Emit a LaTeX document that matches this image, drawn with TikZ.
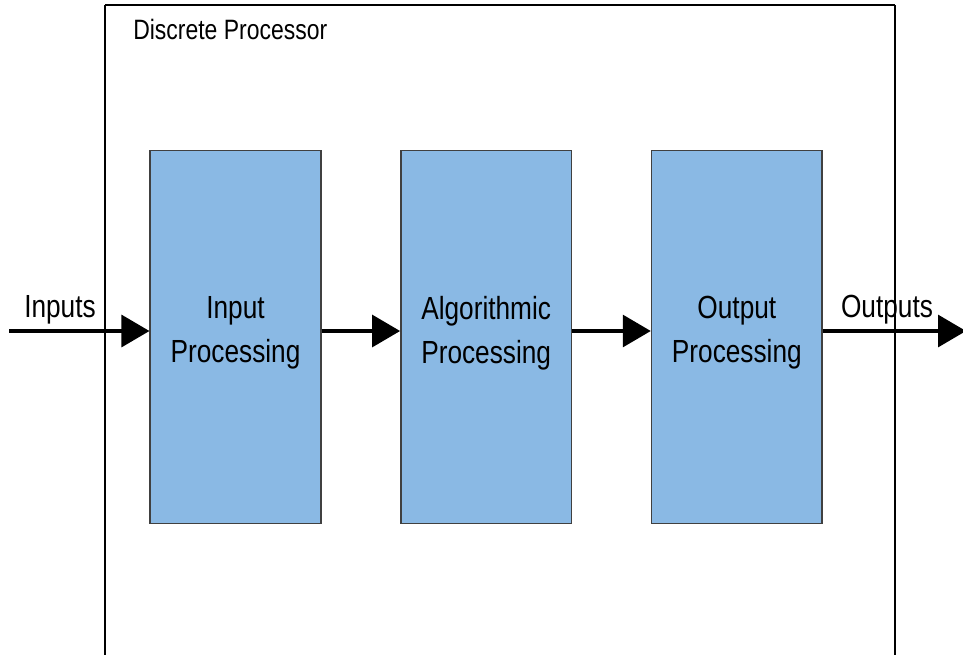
\documentclass[tikz,border=0pt]{standalone}
\usepackage{fontspec}
\setmainfont{Liberation Sans}[FakeStretch=0.82]
\usetikzlibrary{arrows.meta,positioning}
\definecolor{blockblue}{HTML}{8AB9E4}
\tikzset{
  dp/frame/.style={draw=black, line width=1.3pt},
  dp/block/.style={
    draw=black!75,
    line width=1.1pt,
    fill=blockblue,
    minimum width=128pt,
    minimum height=280pt,
    align=center,
    text depth=11pt,
    font=\fontsize{24}{33}\selectfont,
    inner sep=0pt
  },
  dp/label/.style={font=\fontsize{24}{33}\selectfont, inner sep=0pt},
  dp/flow/.style={line width=2.4pt, -{Triangle[length=21pt, width=24pt]}}
}
\begin{document}
\begin{tikzpicture}[x=0.75pt, y=-0.75pt]
\useasboundingbox (0,0) rectangle (963,654);

% --- outer frame
\draw[dp/frame] (105,5) -- (895,5) (105,5) -- (105,680) (895,5) -- (895,680);
\node[anchor=base west, inner sep=0pt, font=\fontsize{21}{25}\selectfont]
  (title) at (133,39) {Discrete Processor};

% --- processing blocks
\node[dp/block] (inproc) at (235.5,337) {Input\\Processing};
\node[dp/block, right=58.9pt of inproc] (algproc) {Algorithmic\\Processing};
\node[dp/block, right=58.9pt of algproc] (outproc) {Output\\Processing};

% --- signal flow
\coordinate (in) at (9,331);
\coordinate (out) at (966,331);
\draw[dp/flow] (in) -- ([yshift=4.5pt]inproc.west);
\draw[dp/flow] ([yshift=4.5pt]inproc.east) -- ([yshift=4.5pt]algproc.west);
\draw[dp/flow] ([yshift=4.5pt]algproc.east) -- ([yshift=4.5pt]outproc.west);
\draw[dp/flow] ([yshift=4.5pt]outproc.east) -- (out);

\node[dp/label, anchor=base] (inlbl) at (60,317) {Inputs};
\node[dp/label, anchor=base] (outlbl) at (887,317) {Outputs};

\end{tikzpicture}
\end{document}
